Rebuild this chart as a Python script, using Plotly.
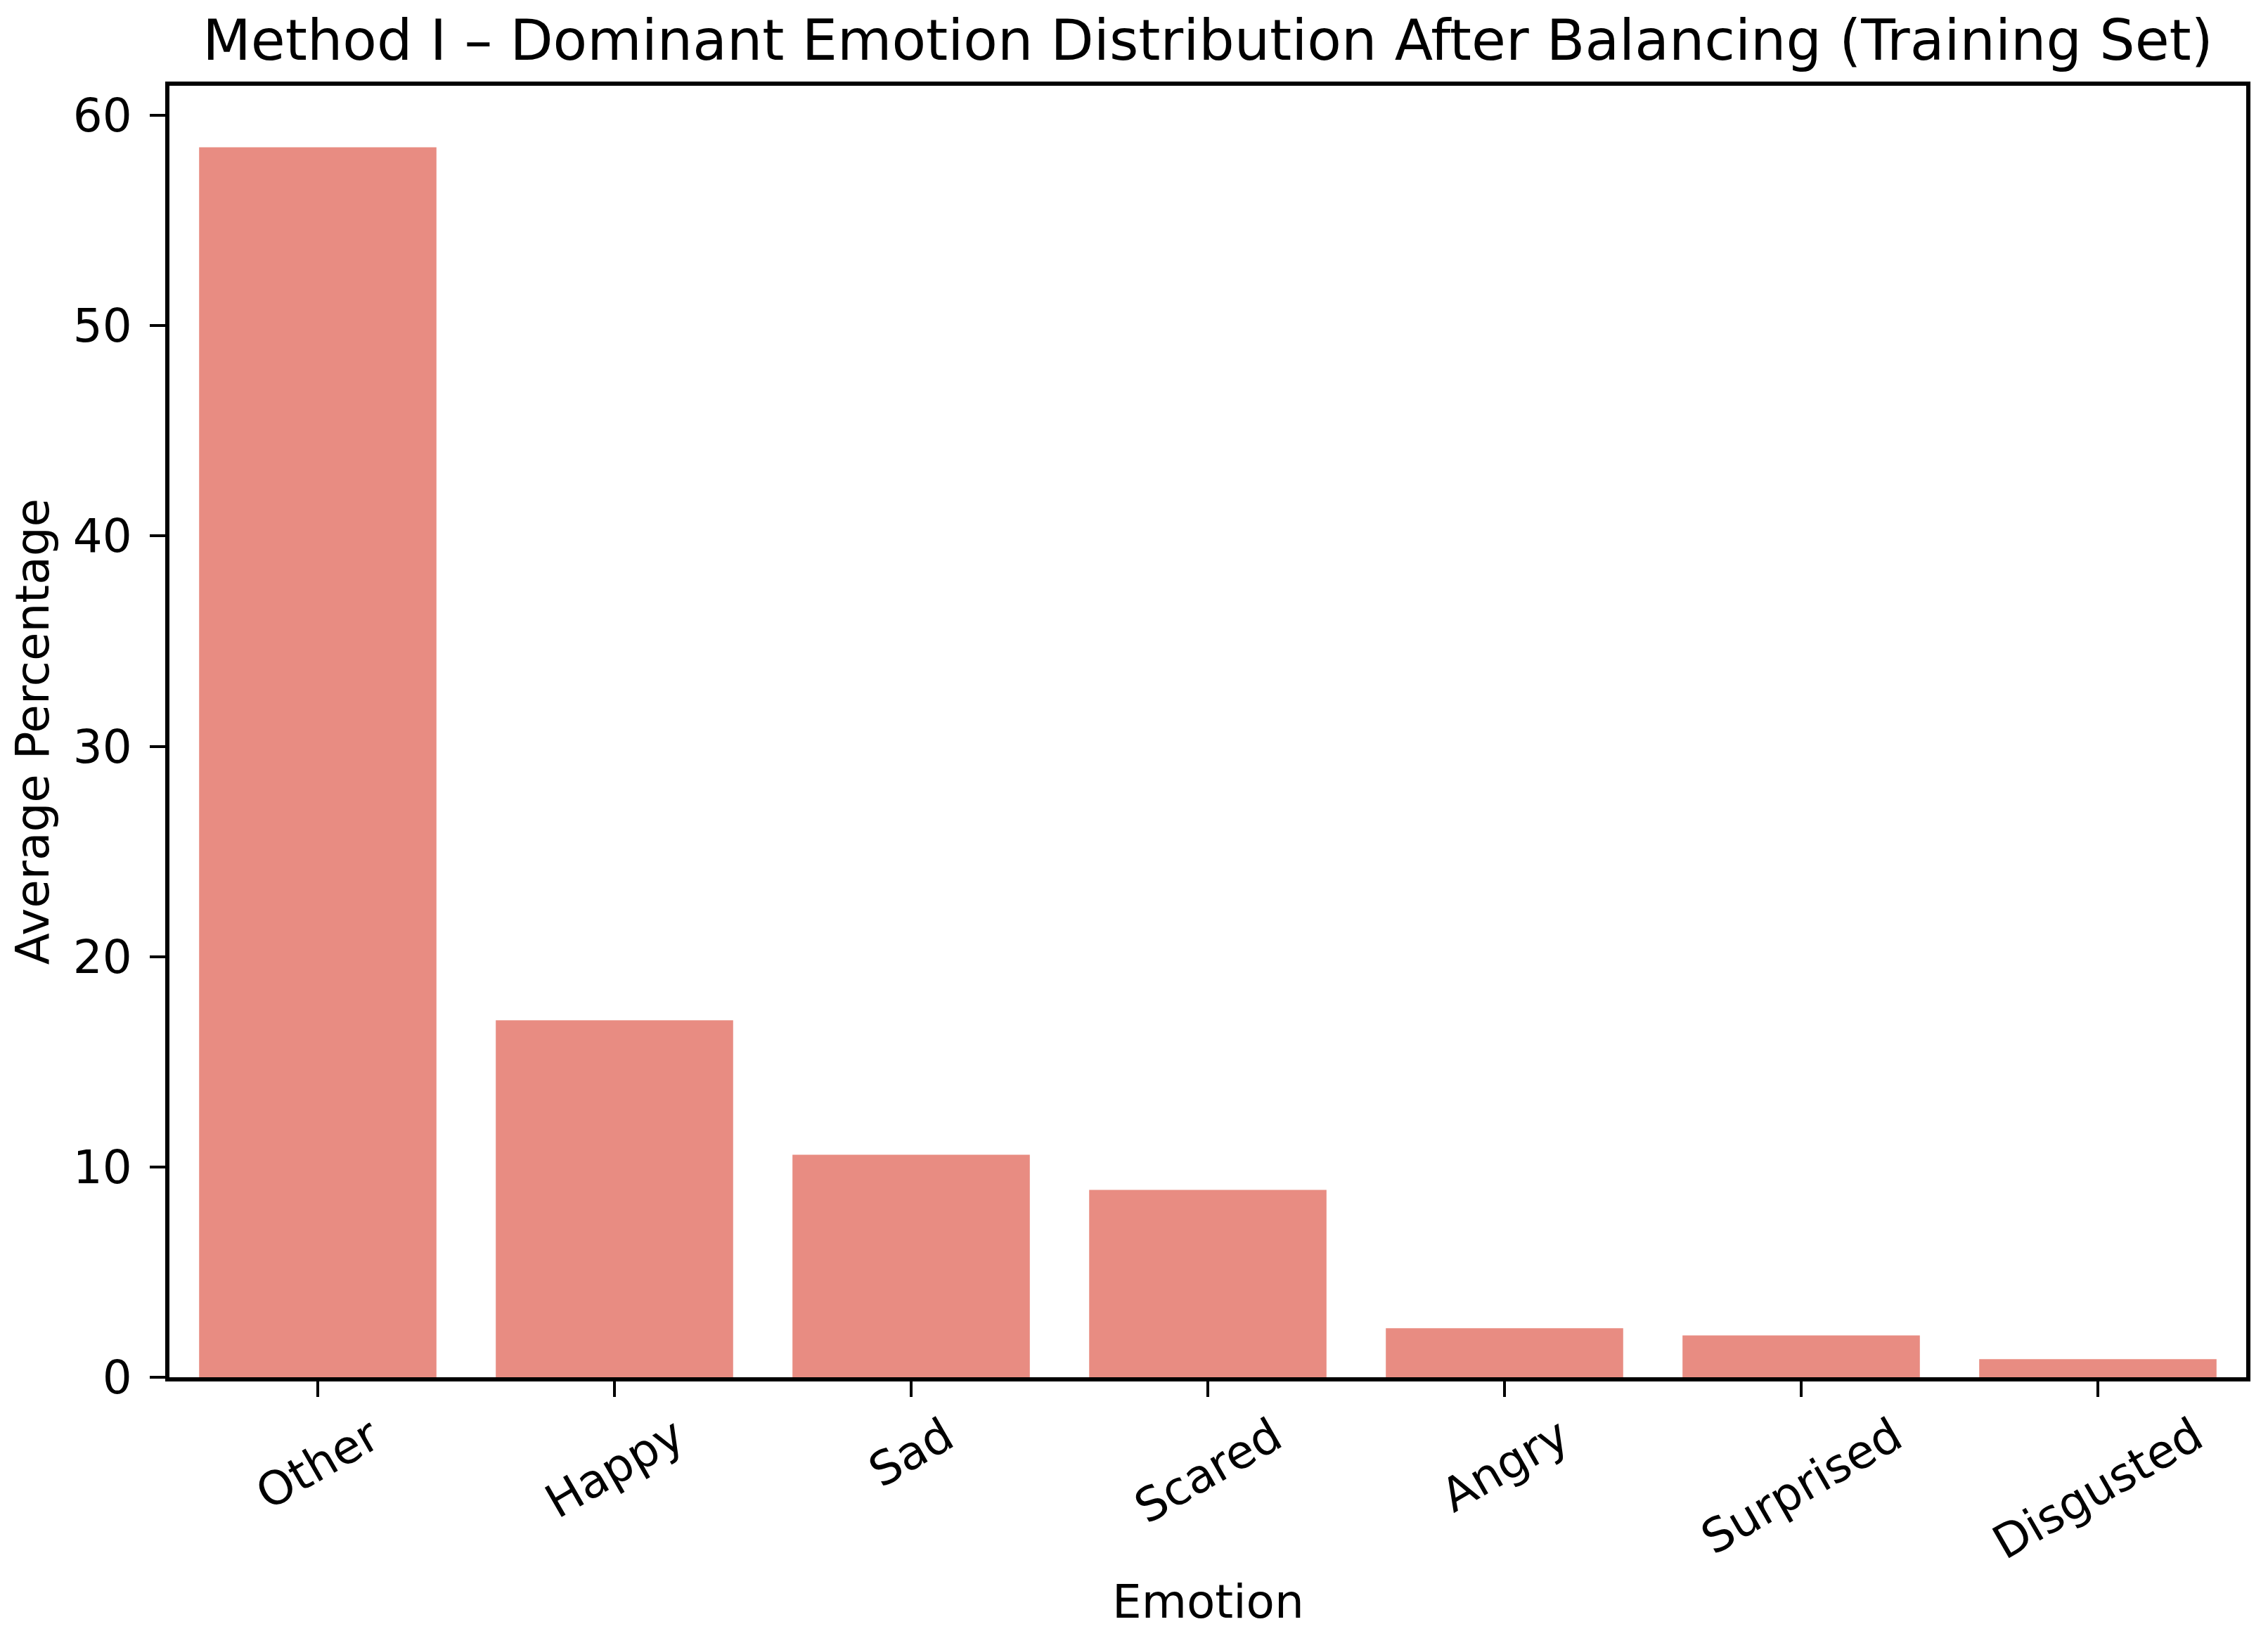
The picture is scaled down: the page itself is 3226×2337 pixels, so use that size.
import plotly.graph_objects as go

emotions = ["Other", "Happy", "Sad", "Scared", "Angry", "Surprised", "Disgusted"]
avg_percentage = [58.48, 16.97, 10.58, 8.91, 2.33, 1.99, 0.86]

title_text = "Method I \u2013 Dominant Emotion Distribution After Balancing (Training Set)"
x_label = "Emotion"
y_label = "Average Percentage"
y_ticks = [0, 10, 20, 30, 40, 50, 60]

FONT = "DejaVu Sans"
TICK_SIZE = 66
TITLE_SIZE = 79.5
BAR_COLOR = "#E88C82"

# the page body adds an 8px offset; size the figure so the plot lands where the reference has it
W, H = 3218, 2329

fig = go.Figure()
fig.add_trace(go.Bar(
    x=emotions,
    y=avg_percentage,
    width=0.8,
    marker=dict(color=BAR_COLOR, line=dict(width=0)),
    showlegend=False,
))

for name in emotions:
    fig.add_annotation(
        x=name, xref="x", y=-0.022, yref="paper",
        text=name, showarrow=False, textangle=-30,
        xanchor="center", yanchor="top",
        font=dict(family=FONT, size=TICK_SIZE, color="black"),
    )

fig.add_annotation(
    x=0.5, xref="paper", y=-0.174, yref="paper",
    text=x_label, showarrow=False, xanchor="center", yanchor="middle",
    font=dict(family=FONT, size=TICK_SIZE, color="black"),
)

fig.update_layout(
    width=W, height=H,
    margin=dict(l=233, r=31, t=114, b=378, autoexpand=False),
    paper_bgcolor="white", plot_bgcolor="white",
    font=dict(family=FONT, size=TICK_SIZE, color="black"),
    title=dict(text=title_text, x=0.5, xref="paper", xanchor="center",
               y=1 - 49 / H, yanchor="middle",
               font=dict(family=FONT, size=TITLE_SIZE, color="black")),
    bargap=0.2,
)

fig.update_xaxes(
    type="category", range=[-0.5, len(emotions) - 0.5],
    showline=True, linecolor="black", linewidth=6, mirror=True,
    ticks="outside", ticklen=22, tickwidth=4, tickcolor="black",
    showticklabels=False, showgrid=False, zeroline=False,
)
fig.update_yaxes(
    range=[0, max(avg_percentage) * 1.05],
    tickvals=y_ticks,
    showline=True, linecolor="black", linewidth=6, mirror=True,
    ticks="outside", ticklen=22, tickwidth=4, tickcolor="black",
    ticklabelstandoff=12,
    showgrid=False, zeroline=False,
    title=dict(text=y_label, standoff=32,
               font=dict(family=FONT, size=TICK_SIZE, color="black")),
    tickfont=dict(family=FONT, size=TICK_SIZE, color="black"),
)

fig.write_html("out.html")
